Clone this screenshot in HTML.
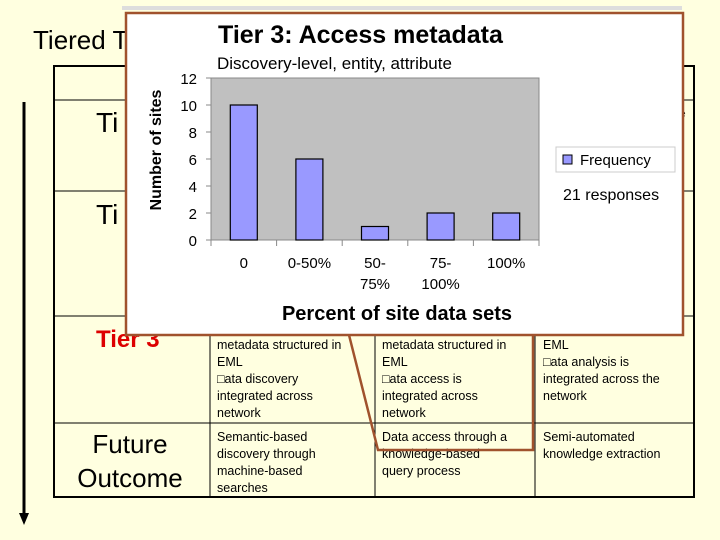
<!DOCTYPE html>
<html><head><meta charset="utf-8"><style>
body{margin:0;width:720px;height:540px;overflow:hidden;background:#ffffe0;font-family:"Liberation Sans",Arial,sans-serif;}
svg{position:absolute;left:0;top:0}
</style></head><body>
<svg width="720" height="540">
<rect x="0" y="0" width="720" height="540" fill="#ffffe0"/>
<text x="33" y="49" font-size="26" fill="#000">Tiered T</text>
<g>
<line x1="24" y1="102" x2="24" y2="515" stroke="#000" stroke-width="3"/>
<polygon points="19,513 29,513 24,525" fill="#000"/>
</g>
<g stroke="#000" fill="none">
<rect x="54" y="66" width="640" height="431" stroke-width="2"/>
<line x1="54" y1="100" x2="694" y2="100"/>
<line x1="54" y1="191" x2="694" y2="191"/>
<line x1="54" y1="316" x2="694" y2="316"/>
<line x1="54" y1="423" x2="694" y2="423"/>
<line x1="210" y1="316" x2="210" y2="497"/>
<line x1="375" y1="316" x2="375" y2="497"/>
<line x1="535" y1="316" x2="535" y2="497"/>
</g>
<text x="96" y="132" font-size="28">Ti</text>
<text x="96" y="224" font-size="28">Ti</text>
<text x="96" y="347" font-size="24" font-weight="bold" fill="#dd0000">Tier 3</text>
<text x="680" y="117" font-size="10">e</text>
<g font-size="26" text-anchor="middle">
<text x="130" y="453">Future</text><text x="130" y="487">Outcome</text></g>
<g font-size="12.5" fill="#000">
<text x="217" y="349">metadata structured in</text><text x="217" y="366">EML</text><text x="217" y="383">□ata discovery</text><text x="217" y="400">integrated across</text><text x="217" y="417">network</text>
<text x="382" y="349">metadata structured in</text><text x="382" y="366">EML</text><text x="382" y="383">□ata access is</text><text x="382" y="400">integrated across</text><text x="382" y="417">network</text>
<text x="543" y="349">EML</text><text x="543" y="366">□ata analysis is</text><text x="543" y="383">integrated across the</text><text x="543" y="400">network</text>
<text x="217" y="441">Semantic-based</text><text x="217" y="458">discovery through</text><text x="217" y="475">machine-based</text><text x="217" y="492">searches</text>
<text x="382" y="441">Data access through a</text><text x="382" y="458">knowledge-based</text><text x="382" y="475">query process</text>
<text x="543" y="441">Semi-automated</text><text x="543" y="458">knowledge extraction</text>
</g>
<polyline points="349,335 378,450 533,450 533,335" fill="none" stroke="#a0522d" stroke-width="2.5"/>
<rect x="122" y="6" width="560" height="4" fill="#dddddd"/>
<rect x="126" y="13" width="557" height="322" fill="#fff" stroke="#a0522d" stroke-width="2.5"/>
<text x="218" y="43" font-size="25" font-weight="bold">Tier 3: Access metadata</text>
<text x="217" y="69" font-size="17">Discovery-level, entity, attribute</text>
<g id="chart"></g>
<text transform="translate(161,150) rotate(-90)" font-size="16" font-weight="bold" text-anchor="middle">Number of sites</text>
<text x="397" y="320" font-size="20" font-weight="bold" text-anchor="middle">Percent of site data sets</text>
<g>
<rect x="556" y="147" width="119" height="25" fill="#fff" stroke="#ccc"/>
<rect x="563" y="155" width="9" height="9" fill="#9999ff" stroke="#000"/>
<text x="580" y="165" font-size="15">Frequency</text>
</g>
<text x="563" y="200" font-size="16">21 responses</text>
</svg>
<script>
const categories=[["0"],["0-50%"],["50-","75%"],["75-","100%"],["100%"]];
const values=[10,6,1,2,2];
const yTicks=[0,2,4,6,8,10,12];
const NS="http://www.w3.org/2000/svg";
const g=document.getElementById('chart');
const px0=211,px1=539,py0=240,py1=78,yMax=12;
const y=v=>py0-(v/yMax)*(py0-py1);
const band=(px1-px0)/categories.length;
const x=i=>px0+band*(i+0.5);
function mk(t,a){const e=document.createElementNS(NS,t);for(const k in a)e.setAttribute(k,a[k]);g.appendChild(e);return e;}
let r=mk('rect',{x:px0,y:py1,width:px1-px0,height:py0-py1,fill:'#c0c0c0',stroke:'#888'});


yTicks.forEach(t=>{
 let tk=mk('line',{x1:px0-5,x2:px0,y1:y(t),y2:y(t),stroke:'#888'});
 
 
 let l=mk('text',{x:px0-14,y:y(t)+6,'font-size':15,'text-anchor':'end'});l.textContent=t;
 
 
});
for(let i=0;i<=categories.length;i++){
 let tk=mk('line',{x1:px0+band*i,x2:px0+band*i,y1:py0,y2:py0+6,stroke:'#888'});
 
 
}
const bw=27;
values.forEach((v,i)=>{
 let b=mk('rect',{x:x(i)-bw/2,y:y(v),width:bw,height:py0-y(v),fill:'#9999ff',stroke:'#000','stroke-width':1.2});
 
 
 categories[i].forEach((s,j)=>{
  let l=mk('text',{x:x(i),y:268+j*21,'font-size':15,'text-anchor':'middle'});l.textContent=s;
  
  
 });
});
</script>
</body></html>
